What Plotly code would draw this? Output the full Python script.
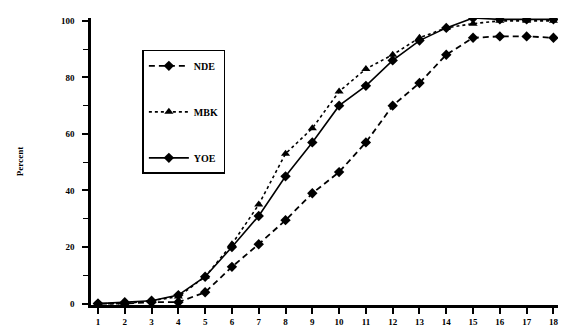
import plotly.graph_objects as go

x_vals = list(range(1, 19))
nde = [0, 0, 0.5, 0.5, 4, 13, 21, 29.5, 39, 46.5, 57, 70, 78, 88, 94, 94.5, 94.5, 94]
mbk = [0, 0, 1, 2.5, 9.5, 21, 35, 53, 62, 75, 83, 88, 94, 97.5, 99, 100, 100, 100]
yoe = [0, 0.5, 1, 3, 9.5, 20, 31, 45, 57, 70, 77, 86, 93, 97.5, 101, 100.5, 100.5, 100.5]

x_ticks = list(range(1, 19))
y_ticks = [0, 20, 40, 60, 80, 100]

SERIF = "Liberation Serif"

fig = go.Figure()
fig.add_trace(go.Scatter(
    x=x_vals, y=nde, name="<b>NDE</b>", mode="lines+markers",
    line=dict(color="black", width=1.8, dash="6px,4px"),
    marker=dict(symbol="diamond", size=8, color="black"),
    legendgroup="a"))
fig.add_trace(go.Scatter(
    x=x_vals, y=mbk, name="<b>MBK</b>", mode="lines+markers",
    line=dict(color="black", width=1.6, dash="dot"),
    marker=dict(symbol="triangle-up", size=8, color="black"),
    legendgroup="b"))
fig.add_trace(go.Scatter(
    x=x_vals, y=yoe, name="<b>YOE</b>", mode="lines+markers",
    line=dict(color="black", width=1.6),
    marker=dict(symbol="diamond", size=8, color="black"),
    legendgroup="c"))

# page body has an 8px margin, so the figure is sized/offset to compensate
fig.update_layout(
    width=560, height=319,
    margin=dict(l=83, r=10, t=10, b=22, autoexpand=False),
    paper_bgcolor="white", plot_bgcolor="white",
    font=dict(family=SERIF, color="black", size=9),
    showlegend=True,
    legend=dict(
        x=0.11, y=0.889, xanchor="left", yanchor="top",
        bordercolor="black", borderwidth=1.5, bgcolor="white",
        font=dict(family=SERIF, size=10, color="black"),
        traceorder="grouped", tracegroupgap=27, itemwidth=40,
    ),
    xaxis=dict(
        range=[0.74, 18.17], tickmode="array", tickvals=x_ticks,
        ticktext=[f"<b>{v}</b>" for v in x_ticks],
        showline=True, linecolor="black", linewidth=2.5,
        ticks="outside", ticklen=6, tickwidth=1.5, tickcolor="black",
        showgrid=False, zeroline=False, automargin=False,
        ticklabeloverflow="allow",
        tickfont=dict(family=SERIF, size=9),
    ),
    yaxis=dict(
        range=[-0.5, 101], tickmode="array", tickvals=y_ticks,
        ticktext=[f"<b>{v}</b>" for v in y_ticks],
        showline=True, linecolor="black", linewidth=2.5,
        ticks="outside", ticklen=6, tickwidth=1.5, tickcolor="black",
        minor=dict(tickvals=[10, 30, 50, 70, 90], ticks="outside",
                   ticklen=5, tickwidth=1.2, tickcolor="black"),
        showgrid=False, zeroline=False, automargin=False,
        ticklabelstandoff=6,
        tickfont=dict(family=SERIF, size=9),
        title=dict(text="<b>Percent</b>", standoff=36,
                   font=dict(family=SERIF, size=9)),
    ),
)

fig.write_html("out.html")
